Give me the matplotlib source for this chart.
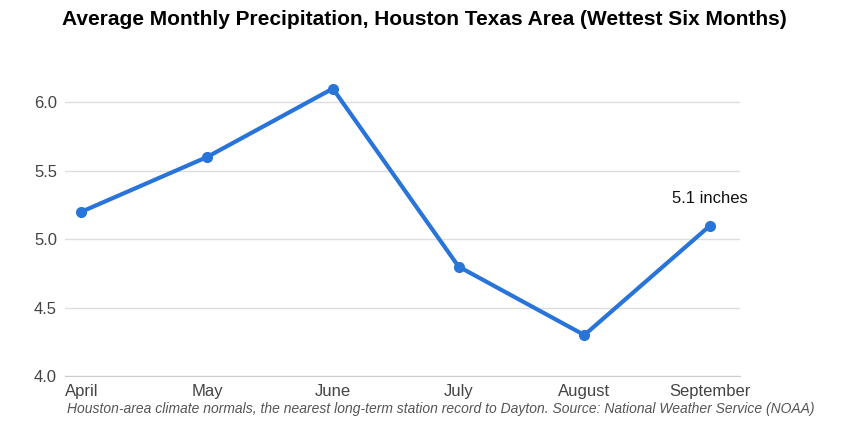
import matplotlib
matplotlib.use("Agg")
import matplotlib.pyplot as plt

months = ["April", "May", "June", "July", "August", "September"]
precip = [5.2, 5.6, 6.1, 4.8, 4.3, 5.1]
yticks = [4.0, 4.5, 5.0, 5.5, 6.0]

plt.rcParams['font.family'] = ['Liberation Sans', 'DejaVu Sans']
fig = plt.figure(figsize=(8.48, 4.25), dpi=100)
ax = fig.add_axes([0.077, 0.115, 0.796, 0.741])
x = list(range(len(months)))
ax.plot(x, precip, color="#2874d8", lw=3, marker="o", ms=7, zorder=3)
ax.set_xlim(-0.127, 5.24)
ax.set_ylim(4.0, 6.3)
ax.set_yticks(yticks)
ax.set_yticklabels([f"{v:.1f}" for v in yticks])
ax.set_xticks(x)
ax.set_xticklabels(months)
ax.grid(axis="y", color="#dddddd", lw=1)
ax.set_axisbelow(True)
for s in ["top", "right", "left"]:
    ax.spines[s].set_visible(False)
ax.spines["bottom"].set_color("#cccccc")
ax.tick_params(length=0, labelsize=12, colors="#444444", pad=6)
ax.annotate(f"{precip[-1]} inches", (x[-1], precip[-1]), xytext=(0, 14),
            textcoords="offset points", ha="center", va="bottom", fontsize=12, color="#111111")
fig.text(0.5, 0.955, "Average Monthly Precipitation, Houston Texas Area (Wettest Six Months)",
         ha="center", va="center", fontsize=15, fontweight="bold")
fig.text(0.52, 0.022, "Houston-area climate normals, the nearest long-term station record to Dayton. Source: National Weather Service (NOAA)",
         ha="center", va="bottom", fontsize=10, style="italic", color="#555555")
fig.savefig("out.png", dpi=100)
